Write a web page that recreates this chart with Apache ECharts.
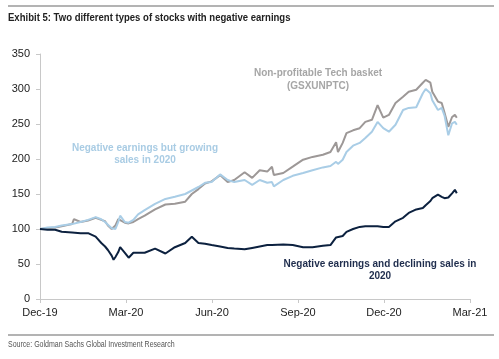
<!DOCTYPE html>
<html>
<head>
<meta charset="utf-8">
<script src="https://cdn.jsdelivr.net/npm/echarts@6/dist/echarts.min.js"></script>
<style>
html,body{margin:0;padding:0;background:#fff;}
#c{width:499px;height:359px;}
</style>
</head>
<body>
<div id="c"></div>
<script>
// Dates of sampled points
var dates = ['2019-12-31','2020-01-08','2020-01-16','2020-01-23','2020-02-03','2020-02-05','2020-02-12','2020-02-20','2020-02-28','2020-03-05','2020-03-09','2020-03-12','2020-03-16','2020-03-18','2020-03-20','2020-03-23','2020-03-25','2020-03-30','2020-04-03','2020-04-08','2020-04-13','2020-04-20','2020-05-01','2020-05-12','2020-05-22','2020-06-02','2020-06-09','2020-06-16','2020-06-23','2020-06-30','2020-07-09','2020-07-17','2020-07-24','2020-08-04','2020-08-12','2020-08-20','2020-08-28','2020-09-02','2020-09-04','2020-09-14','2020-09-24','2020-10-05','2020-10-15','2020-10-26','2020-11-03','2020-11-09','2020-11-11','2020-11-16','2020-11-20','2020-11-27','2020-12-04','2020-12-10','2020-12-17','2020-12-23','2020-12-29','2021-01-04','2021-01-11','2021-01-19','2021-01-25','2021-02-02','2021-02-09','2021-02-12','2021-02-17','2021-02-19','2021-02-25','2021-03-01','2021-03-04','2021-03-08','2021-03-12','2021-03-15','2021-03-17'];

var nonProfitableTech = [100,101,102,104,107,114,110,112,116,113,111,105,100,101,105,114,115,109,108,110,114,119,128,135,136,139,150,157,165,168,177,167,170,181,173,184,182,189,177,180,189,199,203,206,210,224,210,223,237,241,244,253,256,277,259,263,280,289,296,299,309,313,309,296,282,280,266,246,260,263,259];

var growingSales = [100,102,103,105,107,109,110,113,117,114,110,106,101,99,100,110,119,110,109,113,121,127,136,143,146,150,155,160,166,167,178,170,167,170,163,170,166,167,161,170,176,180,184,188,190,196,193,199,210,219,223,230,239,253,244,239,249,270,273,274,294,300,294,284,270,273,262,234,251,253,249];

var decliningSales = [100,99,99,96,95,94,94,94,89,80,75,70,62,56,60,67,74,66,59,66,66,66,72,65,74,80,89,80,79,77,75,73,72,71,73,75,77,77,77,78,77,74,74,76,77,88,89,90,96,100,103,104,104,104,103,103,111,116,123,128,130,134,140,144,149,146,144,145,151,156,151];

var xTickLabels = ['Dec-19','Mar-20','Jun-20','Sep-20','Dec-20','Mar-21'];
var yTicks = [0,50,100,150,200,250,300,350];

var base = Date.parse('2019-12-31');
function dayOf(d){ return (Date.parse(d) - base) / 86400000; }
function pairs(vals){ return vals.map(function(v,i){ return [dayOf(dates[i]), v]; }); }

var quarter = 91.2;
var chart = echarts.init(document.getElementById('c'), null, {renderer:'canvas'});
var sans = 'Arial, Liberation Sans, sans-serif';
chart.setOption({
  animation:false,
  backgroundColor:'#fff',
  grid:{left:40, right:29, top:54, bottom:60},
  xAxis:{
    type:'value', min:0, max:quarter*5, interval:quarter,
    axisLine:{lineStyle:{color:'#c8c8c8', width:1}},
    axisTick:{show:true, length:4, lineStyle:{color:'#c8c8c8'}},
    splitLine:{show:false},
    axisLabel:{color:'#222', fontFamily:sans, fontSize:11, margin:8,
      formatter:function(v){ return xTickLabels[Math.round(v/quarter)] || ''; }}
  },
  yAxis:{
    type:'value', min:yTicks[0], max:yTicks[yTicks.length-1], interval:50,
    axisLine:{show:true, lineStyle:{color:'#c8c8c8', width:1}},
    axisTick:{show:true, length:4, lineStyle:{color:'#c8c8c8'}},
    splitLine:{show:false},
    axisLabel:{color:'#222', fontFamily:sans, fontSize:11, margin:10}
  },
  series:[
    {type:'line', name:'Non-profitable Tech basket', data:pairs(nonProfitableTech), showSymbol:false,
     lineStyle:{color:'#9d9897', width:2}, z:2},
    {type:'line', name:'Negative earnings but growing sales', data:pairs(growingSales), showSymbol:false,
     lineStyle:{color:'#a9cde6', width:2}, z:3},
    {type:'line', name:'Negative earnings and declining sales', data:pairs(decliningSales), showSymbol:false,
     lineStyle:{color:'#0c213f', width:2}, z:4}
  ],
  graphic:[
    {type:'line', shape:{x1:8,y1:6,x2:494,y2:6}, style:{stroke:'#9a9a9a', lineWidth:1.5}},
    {type:'line', shape:{x1:8,y1:335,x2:494,y2:335}, style:{stroke:'#9a9a9a', lineWidth:1.5}},
    {type:'text', x:8, y:12, scaleX:0.83, style:{text:'Exhibit 5: Two different types of stocks with negative earnings', font:'bold 11.5px '+sans, fill:'#222'}},
    {type:'text', x:8, y:340, scaleX:0.78, style:{text:'Source: Goldman Sachs Global Investment Research', font:'9px '+sans, fill:'#555'}},
    {type:'text', x:318, y:67, style:{text:'Non-profitable Tech basket\n(GSXUNPTC)', font:'bold 10px '+sans, fill:'#a6a6a6', align:'center', lineHeight:13}},
    {type:'text', x:145, y:142, style:{text:'Negative earnings but growing\nsales in 2020', font:'bold 10px '+sans, fill:'#a9cce4', align:'center', lineHeight:12}},
    {type:'text', x:380, y:258, style:{text:'Negative earnings and declining sales in\n2020', font:'bold 10px '+sans, fill:'#1f2d4d', align:'center', lineHeight:12}}
  ]
});
</script>
</body>
</html>
